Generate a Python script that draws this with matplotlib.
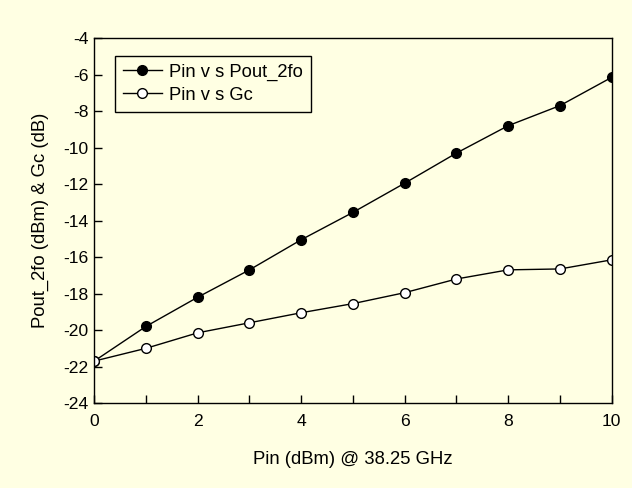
import matplotlib
matplotlib.use("Agg")
import matplotlib.pyplot as plt
from matplotlib.ticker import MultipleLocator

plt.rcParams['font.family'] = ['Liberation Sans', 'DejaVu Sans']
plt.rcParams['axes.unicode_minus'] = False

pin = [0, 1, 2, 3, 4, 5, 6, 7, 8, 9, 10]
pout_2fo = [-21.7, -19.8, -18.2, -16.7, -15.05, -13.55, -11.95, -10.3, -8.8, -7.7, -6.15]
gc = [-21.7, -21.0, -20.15, -19.6, -19.05, -18.55, -17.95, -17.2, -16.7, -16.65, -16.15]

bg = '#FFFFE3'
fig = plt.figure(figsize=(6.32, 4.88), dpi=100, facecolor=bg)
ax = fig.add_axes([0.149, 0.174, 0.819, 0.748], facecolor=bg)

ax.plot(pin, pout_2fo, color='black', lw=1, marker='o', ms=7,
        mfc='black', mec='black', label='Pin v s Pout_2fo')
ax.plot(pin, gc, color='black', lw=1, marker='o', ms=7,
        mfc='white', mec='black', label='Pin v s Gc')

ax.set_xlim(0, 10)
ax.set_ylim(-24, -4)
ax.xaxis.set_major_locator(MultipleLocator(2))
ax.xaxis.set_minor_locator(MultipleLocator(1))
ax.yaxis.set_major_locator(MultipleLocator(2))
ax.tick_params(which='both', direction='in', top=False, right=False,
               labelsize=12.6, length=6, width=1)
ax.tick_params(axis='x', pad=8)
ax.tick_params(axis='y', pad=4)
for s in ax.spines.values():
    s.set_linewidth(1)

ax.set_xlabel('Pin (dBm) @ 38.25 GHz', fontsize=13.3, labelpad=16)
ax.set_ylabel('Pout_2fo (dBm) & Gc (dB)', fontsize=13.3, labelpad=10)

leg = ax.legend(loc='upper left', bbox_to_anchor=(0.04, 0.952), fontsize=13.2,
                frameon=True, fancybox=False, edgecolor='black',
                facecolor=bg, framealpha=1, handlelength=2.1,
                borderpad=0.45, labelspacing=0.3, handletextpad=0.4,
                borderaxespad=0)
leg.get_frame().set_linewidth(1)

fig.savefig('out.png', dpi=100, facecolor=bg)
